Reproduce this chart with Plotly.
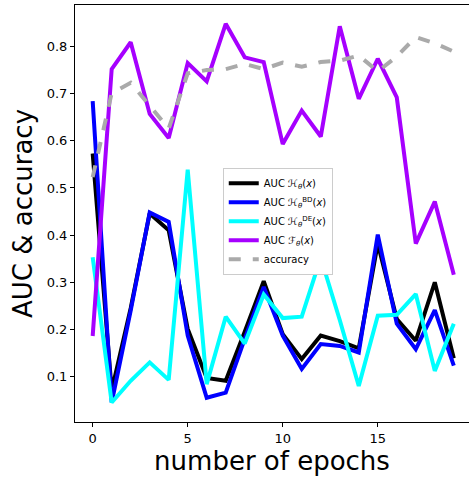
import plotly.graph_objects as go

epochs = list(range(20))
auc_h = [0.573, 0.07, 0.245, 0.446, 0.410, 0.201, 0.097, 0.091, 0.195, 0.302,
         0.190, 0.137, 0.187, 0.175, 0.160, 0.382, 0.222, 0.176, 0.300, 0.139]
auc_bd = [0.684, 0.045, 0.240, 0.448, 0.428, 0.187, 0.055, 0.066, 0.180, 0.290,
          0.187, 0.116, 0.169, 0.165, 0.151, 0.401, 0.212, 0.158, 0.241, 0.123]
auc_de = [0.353, 0.045, 0.091, 0.130, 0.093, 0.539, 0.084, 0.227, 0.170, 0.274,
          0.224, 0.227, 0.352, 0.220, 0.080, 0.229, 0.231, 0.275, 0.112, 0.212]
auc_f = [0.186, 0.752, 0.809, 0.657, 0.606, 0.765, 0.726, 0.848, 0.777, 0.767,
         0.593, 0.664, 0.609, 0.843, 0.689, 0.774, 0.692, 0.382, 0.471, 0.316]
accuracy = [0.523, 0.701, 0.723, 0.674, 0.626, 0.743, 0.750, 0.752, 0.763, 0.752,
            0.766, 0.757, 0.767, 0.770, 0.781, 0.747, 0.779, 0.820, 0.807, 0.789]

names = ["AUC <i>ℋ</i><sub><i>θ</i></sub>(<i>x</i>)",
         "AUC <i>ℋ</i><sub><i>θ</i></sub><sup>BD</sup>(<i>x</i>)",
         "AUC <i>ℋ</i><sub><i>θ</i></sub><sup>DE</sup>(<i>x</i>)",
         "AUC <i>ℱ</i><sub><i>θ</i></sub>(<i>x</i>)",
         "accuracy"]
colors = ["black", "#0000ff", "#00ffff", "#a600ff", "#aaaaaa"]
series = [auc_h, auc_bd, auc_de, auc_f, accuracy]

fig = go.Figure()
for s, n, c in zip(series, names, colors):
    fig.add_trace(go.Scatter(
        x=epochs, y=s, mode="lines", name=n,
        line=dict(color=c, width=4, dash="dash" if n == "accuracy" else "solid"),
    ))

fig.update_layout(
    width=469, height=477,
    margin=dict(l=75, r=0, t=5, b=55),
    plot_bgcolor="white", paper_bgcolor="white",
    font=dict(family="DejaVu Sans", color="black"),
    showlegend=True,
    legend=dict(x=0.375, y=0.61, xanchor="left", yanchor="top",
                bgcolor="white", bordercolor="#cccccc", borderwidth=1,
                font=dict(size=10), tracegroupgap=0, itemwidth=30),
)
fig.update_xaxes(
    range=[-0.93, 19.8], showline=True, linecolor="black", linewidth=1, mirror=True,
    ticks="outside", ticklen=4, tickcolor="black", tickvals=[0, 5, 10, 15],
    tickfont=dict(size=13), showgrid=False, zeroline=False,
    title=dict(text="number of epochs", font=dict(size=26), standoff=2),
)
fig.update_yaxes(
    range=[0.0036, 0.888], showline=True, linecolor="black", linewidth=1, mirror=False,
    ticks="outside", ticklen=4, tickcolor="black",
    tickvals=[0.1, 0.2, 0.3, 0.4, 0.5, 0.6, 0.7, 0.8],
    tickfont=dict(size=13), showgrid=False, zeroline=False,
    title=dict(text="AUC &amp; accuracy", font=dict(size=26), standoff=6),
)

fig.write_html("out.html")
